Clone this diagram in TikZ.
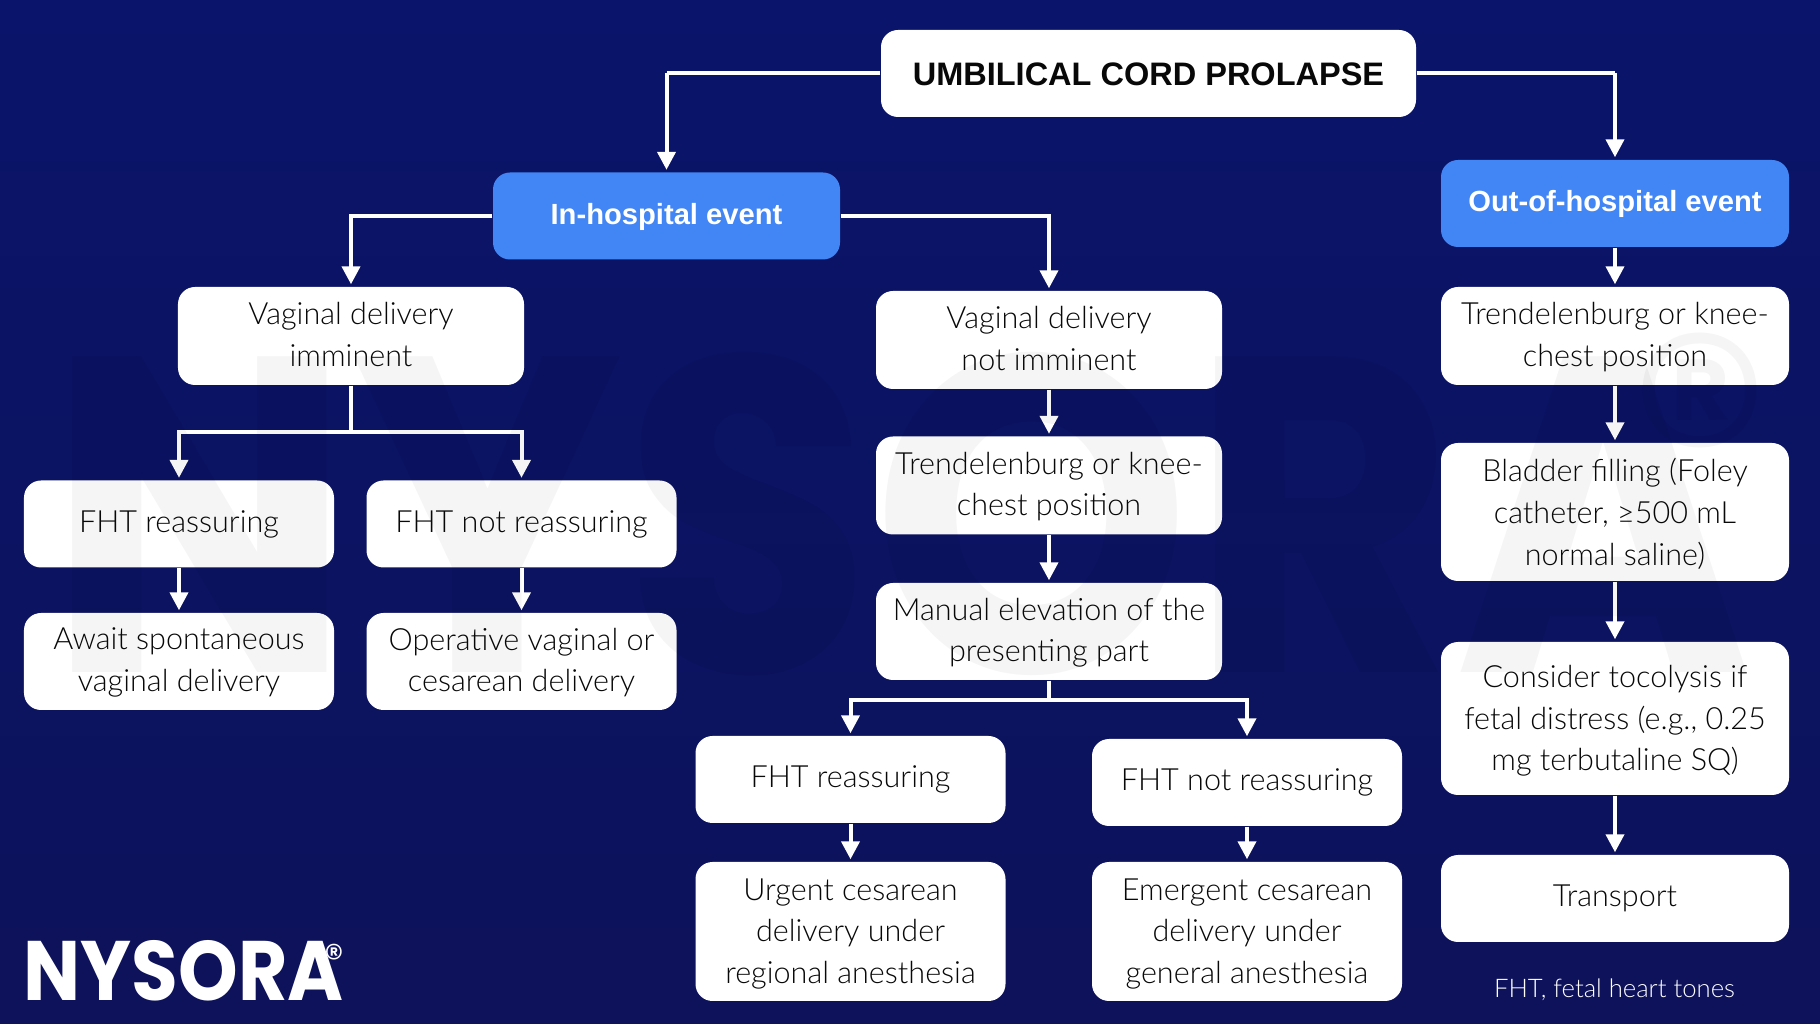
\documentclass[tikz,border=0pt]{standalone}
\usepackage{fontspec}
\usepackage{graphicx}
\setmainfont{Lato Light}
\newfontfamily\logofont{Poppins}
\newfontfamily\boldfont{Liberation Sans}
\usetikzlibrary{arrows.meta}
\definecolor{navy}{RGB}{10,20,106}
\definecolor{navylow}{RGB}{13,18,90}
\definecolor{eventblue}{RGB}{66,133,244}
\definecolor{inktext}{RGB}{8,8,8}
\newcommand{\logoword}{\scalebox{0.9}[1]{NYSORA}}
\tikzset{
  card/.style={draw=none, fill=white, rounded corners=0.17cm, align=center, text=inktext, inner sep=0pt, font=\fontsize{8.7}{11.9}\selectfont, execute at begin node=\strut, execute at end node=\strut},
  eventcard/.style={card, fill=eventblue, text=white, font=\boldfont\fontsize{8.3}{11.9}\selectfont\bfseries},
  stack/.style={execute at end node={}, text depth=0.93pt},
  stackhigh/.style={execute at end node={}, text depth=0.27pt},
  flow/.style={draw=white, line width=0.04cm, -{Triangle[length=0.18cm,width=0.18cm]}},
  stem/.style={draw=white, line width=0.04cm},
}
\begin{document}
\begin{tikzpicture}[x=1cm,y=1cm]
    \shade[top color=navy, bottom color=navylow] (0cm,0cm) rectangle (18.2cm,10.24cm);
    \useasboundingbox (0cm,0cm) rectangle (18.2cm,10.24cm);

% top row
    \node[card, execute at begin node=\rule{0pt}{10.6pt}, minimum width=5.35cm, minimum height=0.87cm, font=\boldfont\fontsize{9.25}{11.9}\selectfont\bfseries] (Title) at (11.485cm,9.505cm) {UMBILICAL CORD PROLAPSE};
    \node[eventcard, minimum width=3.47cm, minimum height=0.87cm] (InHosp) at (6.665cm,8.08cm) {In-hospital event};
    \node[eventcard, minimum width=3.48cm, minimum height=0.87cm] (OutHosp) at (16.15cm,8.205cm) {Out-of-hospital event};

% left branch
    \node[card, stack, minimum width=3.46cm, minimum height=0.98cm] (VagA) at (3.51cm,6.88cm) {Vaginal delivery\\imminent};
    \node[card, minimum width=3.10cm, minimum height=0.87cm] (FhtA) at (1.79cm,5.00cm) {FHT reassuring};
    \node[card, minimum width=3.10cm, minimum height=0.87cm] (NotA) at (5.215cm,5.00cm) {FHT not reassuring};
    \node[card, stack, minimum width=3.10cm, minimum height=0.97cm] (Await) at (1.79cm,3.625cm) {Await spontaneous\\vaginal delivery};
    \node[card, stack, minimum width=3.10cm, minimum height=0.97cm] (Oper) at (5.215cm,3.625cm) {Operative vaginal or\\cesarean delivery};
    \coordinate (JoinA) at (3.51cm,5.92cm);

% middle branch
    \node[card, stack, minimum width=3.46cm, minimum height=0.98cm] (VagB) at (10.49cm,6.84cm) {Vaginal delivery\\not imminent};
    \node[card, stack, minimum width=3.46cm, minimum height=0.98cm] (TrendB) at (10.49cm,5.385cm) {Trendelenburg or knee-\\chest position};
    \node[card, stack, minimum width=3.46cm, minimum height=0.97cm] (Manual) at (10.49cm,3.925cm) {Manual elevation of the\\presenting part};
    \node[card, minimum width=3.10cm, minimum height=0.87cm] (FhtB) at (8.505cm,2.445cm) {FHT reassuring};
    \node[card, minimum width=3.10cm, minimum height=0.87cm] (NotB) at (12.47cm,2.415cm) {FHT not reassuring};
    \node[card, stackhigh, minimum width=3.10cm, minimum height=1.39cm] (Urgent) at (8.505cm,0.925cm) {Urgent cesarean\\delivery under\\regional anesthesia};
    \node[card, stackhigh, minimum width=3.10cm, minimum height=1.39cm] (Emerg) at (12.47cm,0.925cm) {Emergent cesarean\\delivery under\\general anesthesia};
    \coordinate (JoinB) at (10.49cm,3.24cm);

% right branch
    \node[card, stack, minimum width=3.48cm, minimum height=0.98cm] (TrendC) at (16.15cm,6.88cm) {Trendelenburg or knee-\\chest position};
    \node[card, stackhigh, minimum width=3.48cm, minimum height=1.38cm] (Bladder) at (16.15cm,5.12cm) {Bladder filling (Foley\\catheter, ≥500 mL\\normal saline)};
    \node[card, stackhigh, minimum width=3.48cm, minimum height=1.53cm] (Tocol) at (16.15cm,3.055cm) {Consider tocolysis if\\fetal distress (e.g., 0.25\\mg terbutaline SQ)};
    \node[card, minimum width=3.48cm, minimum height=0.87cm] (Transp) at (16.15cm,1.255cm) {Transport};
    \node[text=white, inner sep=0pt, font=\fontsize{7.3}{9}\selectfont] (Legend) at (16.145cm,0.34cm) {FHT, fetal heart tones};

% connectors
    \coordinate (TitleL) at (6.665cm,9.505cm);
    \coordinate (TitleR) at (16.15cm,9.505cm);
    \draw[stem] (Title.west) -- (TitleL);
    \draw[flow] (TitleL) -- ([yshift=0.02cm]InHosp.north);
    \draw[stem] (Title.east) -- (TitleR);
    \draw[flow] (TitleR) -- ([yshift=0.02cm]OutHosp.north);

    \draw[flow] (InHosp.west) -| ([yshift=0.02cm]VagA.north);
    \draw[flow] (InHosp.east) -| ([yshift=0.02cm]VagB.north);

    \draw[stem] (VagA.south) -- (JoinA);
    \draw[flow] (JoinA) -| ([yshift=0.02cm]FhtA.north);
    \draw[flow] (JoinA) -| ([yshift=0.02cm]NotA.north);
    \draw[flow] (FhtA.south) -- ([yshift=0.02cm]Await.north);
    \draw[flow] (NotA.south) -- ([yshift=0.02cm]Oper.north);

    \draw[flow] (VagB.south) -- ([yshift=0.02cm]TrendB.north);
    \draw[flow] (TrendB.south) -- ([yshift=0.02cm]Manual.north);
    \draw[stem] (Manual.south) -- (JoinB);
    \draw[flow] (JoinB) -| ([yshift=0.02cm]FhtB.north);
    \draw[flow] (JoinB) -| ([yshift=0.02cm]NotB.north);
    \draw[flow] (FhtB.south) -- ([yshift=0.02cm]Urgent.north);
    \draw[flow] (NotB.south) -- ([yshift=0.02cm]Emerg.north);

    \draw[flow] (OutHosp.south) -- ([yshift=0.02cm]TrendC.north);
    \draw[flow] (TrendC.south) -- ([yshift=0.02cm]Bladder.north);
    \draw[flow] (Bladder.south) -- ([yshift=0.02cm]Tocol.north);
    \draw[flow] (Tocol.south) -- ([yshift=0.02cm]Transp.north);

% logo and watermark
    \node[anchor=south west, inner sep=0pt, text=white, font=\logofont\fontsize{24}{24}\selectfont\bfseries] (Logo) at (0.23cm,0.22cm) {\logoword};
    \node[inner sep=0pt, text=white, font=\logofont\fontsize{11}{11}\selectfont] (LogoMark) at (3.34cm,0.66cm) {®};
    \node[text=black, opacity=0.04, inner sep=0pt, font=\logofont\fontsize{128}{128}\selectfont\bfseries] (Mark) at (9.0cm,5.1cm) {\logoword};
    \node[text=black, opacity=0.04, inner sep=0pt, font=\logofont\fontsize{80}{80}\selectfont] (MarkReg) at (17.0cm,5.92cm) {®};
\end{tikzpicture}
\end{document}
